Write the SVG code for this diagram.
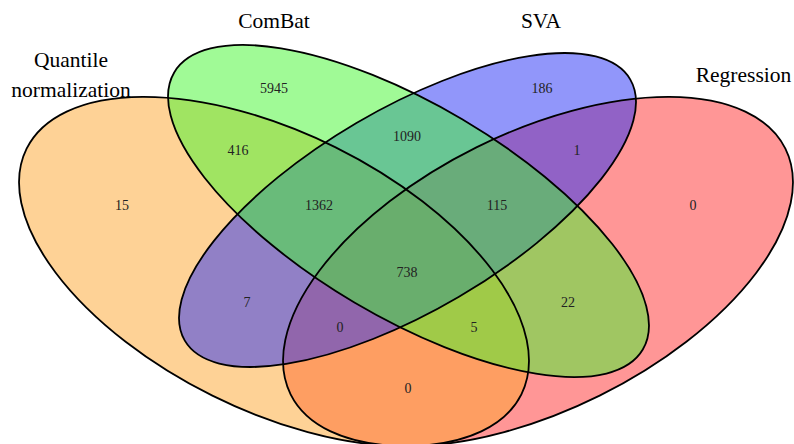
<svg xmlns="http://www.w3.org/2000/svg" xmlns:xlink="http://www.w3.org/1999/xlink" width="794" height="444" viewBox="0 0 794 444">
<style>
.fill{stroke:none;fill-opacity:0.5}
.outline{fill:none;stroke:#000;stroke-width:1.8}
.lab{font-family:"Liberation Serif","Times New Roman",serif;font-size:21.5px;fill:#000;text-anchor:middle}
.num{font-family:"Liberation Serif","Times New Roman",serif;font-size:14px;fill:#222;text-anchor:middle}
</style>
<defs>
<ellipse id="eQ" cx="274" cy="271.5" rx="276.2" ry="138.6" transform="rotate(26.4 274 271.5)"/>
<ellipse id="eR" cx="538" cy="271.5" rx="276.2" ry="138.6" transform="rotate(-26.4 538 271.5)"/>
<ellipse id="eC" cx="408.5" cy="211" rx="272.2" ry="106.3" transform="rotate(30.6 408.5 211)"/>
<ellipse id="eS" cx="407.5" cy="210" rx="258.2" ry="100.9" transform="rotate(-30.4 407.5 210)"/>
</defs>
<rect width="794" height="444" fill="#fff"/>
<g id="set-regression">
<use xlink:href="#eR" href="#eR" class="fill" fill="#FF2D2D"/>
<text class="lab" x="743.5" y="82">Regression</text>
</g>
<g id="set-quantile">
<use xlink:href="#eQ" href="#eQ" class="fill" fill="#FDA52D"/>
<text class="lab" x="71" y="67">Quantile</text>
<text class="lab" x="71" y="97">normalization</text>
</g>
<g id="set-sva">
<use xlink:href="#eS" href="#eS" class="fill" fill="#232DF5"/>
<text class="lab" x="541" y="28">SVA</text>
</g>
<g id="set-combat">
<use xlink:href="#eC" href="#eC" class="fill" fill="#41F52D"/>
<text class="lab" x="274" y="28">ComBat</text>
</g>
<g id="outlines">
<use xlink:href="#eR" href="#eR" class="outline"/>
<use xlink:href="#eQ" href="#eQ" class="outline"/>
<use xlink:href="#eS" href="#eS" class="outline"/>
<use xlink:href="#eC" href="#eC" class="outline"/>
</g>
<g id="counts">
<text class="num" x="274" y="93">5945</text>
<text class="num" x="542" y="93">186</text>
<text class="num" x="238" y="155">416</text>
<text class="num" x="407" y="141">1090</text>
<text class="num" x="577" y="155">1</text>
<text class="num" x="122" y="210">15</text>
<text class="num" x="319" y="210">1362</text>
<text class="num" x="497" y="210">115</text>
<text class="num" x="693" y="210">0</text>
<text class="num" x="407" y="277">738</text>
<text class="num" x="247" y="307">7</text>
<text class="num" x="568" y="307">22</text>
<text class="num" x="340" y="332">0</text>
<text class="num" x="474" y="332">5</text>
<text class="num" x="408" y="393">0</text>
</g>
</svg>
